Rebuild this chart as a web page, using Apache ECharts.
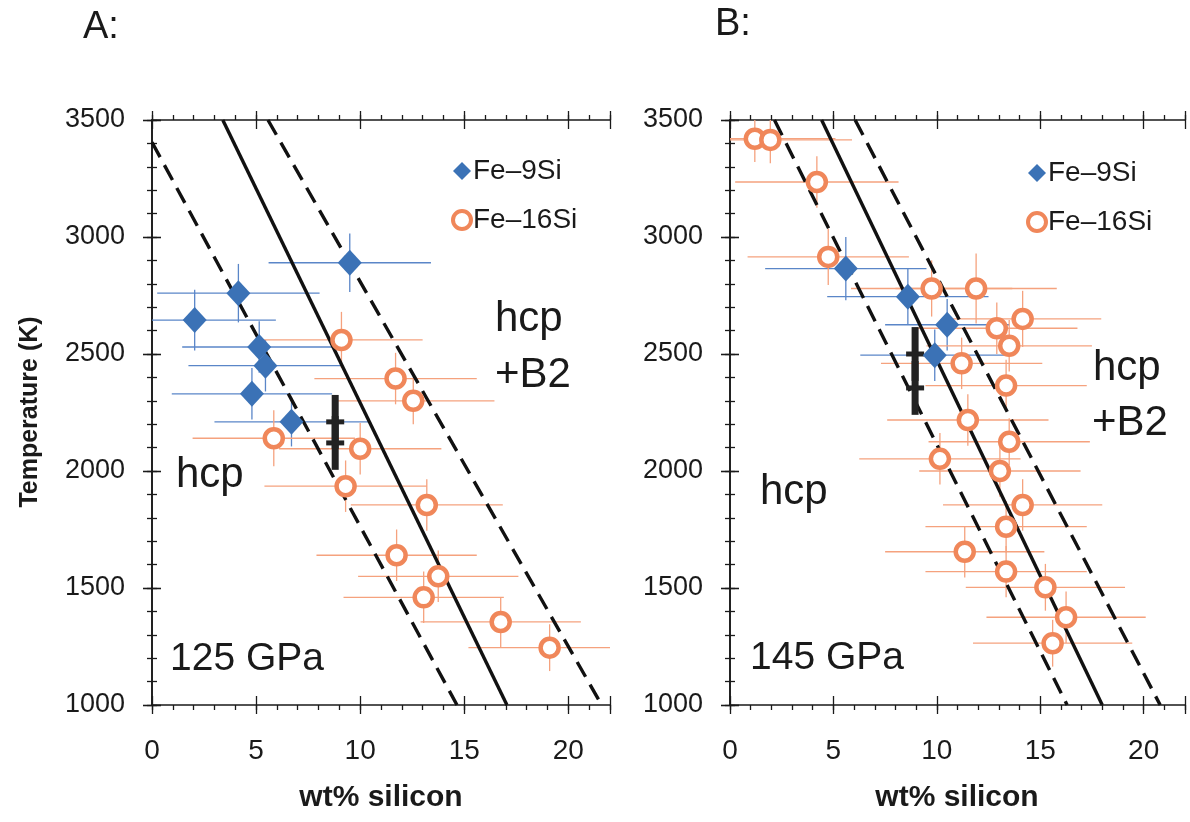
<!DOCTYPE html>
<html>
<head>
<meta charset="utf-8">
<title>Fe-Si phase boundary</title>
<script src="https://cdn.jsdelivr.net/npm/echarts@6/dist/echarts.min.js"></script>
<style>
  html, body { margin: 0; padding: 0; background: #fff; }
  #chart { width: 1190px; height: 822px; }
</style>
</head>
<body>
<div id="chart"></div>
<script>
// ---- data ----
const xTicks = [0, 5, 10, 15, 20];
const yTicks = [1000, 1500, 2000, 2500, 3000, 3500];

// A: 125 GPa, Fe-9Si (diamonds)
const a9Si    = [9.5, 4.15, 2.05, 5.15, 5.45, 4.8, 6.7];
const a9T     = [2890, 2760, 2645, 2530, 2450, 2330, 2210];
const a9SiErr = [3.9, 3.9, 3.9, 3.7, 3.7, 3.85, 3.7];
const a9TErr  = [125, 125, 130, 110, 110, 110, 105];

// A: 125 GPa, Fe-16Si (rings)
const a16Si    = [9.1, 11.7, 12.55, 5.85, 10.0, 9.3, 13.2, 11.75, 13.75, 13.05, 16.75, 19.1];
const a16T     = [2560, 2395, 2300, 2140, 2095, 1935, 1855, 1640, 1550, 1460, 1355, 1245];
const a16SiErr = [3.9, 3.9, 3.9, 3.9, 3.9, 3.9, 3.65, 3.85, 3.85, 3.85, 3.85, 3.9];
const a16TErr  = [120, 110, 100, 120, 110, 110, 110, 110, 110, 110, 107, 100];

// B: 145 GPa, Fe-9Si
const b9Si    = [5.6, 8.6, 10.5, 9.9];
const b9T     = [2865, 2745, 2625, 2495];
const b9SiErr = [3.9, 3.9, 3.0, 3.6];
const b9TErr  = [135, 120, 110, 110];

// B: 145 GPa, Fe-16Si
const b16Si    = [1.2, 1.95, 4.2, 4.75, 9.75, 11.9, 14.15, 12.9, 13.5, 11.2, 13.35, 11.5, 13.5, 10.15, 13.05, 14.15, 13.35, 11.35, 13.35, 15.25, 16.25, 15.6];
const b16T     = [3420, 3415, 3235, 2915, 2780, 2780, 2650, 2610, 2535, 2460, 2365, 2218, 2125, 2052, 2000, 1855, 1762, 1655, 1570, 1503, 1375, 1264];
const b16SiErr = [3.9, 3.95, 3.95, 3.9, 3.9, 3.9, 3.8, 3.9, 4.0, 3.9, 3.9, 3.9, 3.9, 3.9, 3.9, 3.85, 3.9, 3.85, 3.9, 3.85, 3.85, 3.85];
const b16TErr  = [100, 100, 110, 120, 120, 150, 120, 110, 110, 110, 110, 110, 100, 110, 110, 110, 110, 110, 110, 100, 110, 100];

// black reference points (earlier work)
const aRefSi = [8.8, 8.8];
const aRefT = [2210, 2120];
const aRefTErr = [115, 115];
const bRefSi = [8.95, 8.95];
const bRefT = [2500, 2355];
const bRefTErr = [115, 115];

// phase boundary (solid) and its bounds (dashed)
const aFit  = [[3.4, 3500], [17.05, 1000]];
const aLow  = [[0, 3405], [14.65, 1000]];
const aHigh = [[5.57, 3500], [21.6, 1000]];
const bFit  = [[4.43, 3500], [18.0, 1000]];
const bLow  = [[2.15, 3500], [16.3, 1000]];
const bHigh = [[6.05, 3500], [20.8, 1000]];

const X_MIN = 0, X_MAX = 22, Y_MIN = 1000, Y_MAX = 3500;

// ---- styles ----
const FONT = 'Liberation Sans, Arial, sans-serif';
const INK = '#1a1a1a';
const BLUE = '#3b72b6';
const BLUE_ERR = '#5a86c8';
const ORANGE = '#f0875a';
const ORANGE_ERR = '#f5a27e';

let xAxesFor = function (g) {
    let base = { gridIndex: g, type: 'value', min: X_MIN, max: X_MAX, splitLine: { show: false } };
    let tickLine = { color: INK, width: 1.3 };
    let list = [];
    ['bottom', 'top'].forEach(pos => {
        list.push(Object.assign({}, base, {
            position: pos, interval: 1,
            axisLine: { show: true, lineStyle: { color: INK, width: 1.6 } },
            axisTick: { show: true, length: 5, lineStyle: tickLine },
            axisLabel: {
                show: pos === 'bottom', margin: 32, fontSize: 28, color: INK, fontFamily: FONT,
                formatter: v => (xTicks.indexOf(v) >= 0 ? String(v) : '')
            }
        }));
        list.push(Object.assign({}, base, {
            position: pos, interval: 5,
            axisLine: { show: false }, axisLabel: { show: false },
            axisTick: { show: true, length: 9, lineStyle: tickLine }
        }));
        list.push(Object.assign({}, base, {
            position: pos, interval: 5,
            axisLine: { show: false }, axisLabel: { show: false },
            axisTick: { show: true, inside: true, length: 9, lineStyle: tickLine }
        }));
    });
    return list;
}

let yAxesFor = function (g) {
    let base = { gridIndex: g, type: 'value', min: Y_MIN, max: Y_MAX, splitLine: { show: false } };
    let tickLine = { color: INK, width: 1.3 };
    let list = [];
    ['left', 'right'].forEach(pos => {
        list.push(Object.assign({}, base, {
            position: pos, interval: 100,
            axisLine: { show: true, lineStyle: { color: INK, width: 1.6 } },
            axisTick: { show: true, length: 5, lineStyle: tickLine },
            axisLabel: {
                show: pos === 'left', margin: 27, fontSize: 27, color: INK, fontFamily: FONT,
                formatter: v => (yTicks.indexOf(v) >= 0 ? String(v) : '')
            }
        }));
        list.push(Object.assign({}, base, {
            position: pos, interval: 500,
            axisLine: { show: false }, axisLabel: { show: false },
            axisTick: { show: true, length: 9, lineStyle: tickLine }
        }));
        list.push(Object.assign({}, base, {
            position: pos, interval: 500,
            axisLine: { show: false }, axisLabel: { show: false },
            axisTick: { show: true, inside: true, length: 9, lineStyle: tickLine }
        }));
    });
    return list;
}

let clampX = v => Math.max(X_MIN, Math.min(X_MAX, v));
let clampY = v => Math.max(Y_MIN, Math.min(Y_MAX, v));

// thin cross-shaped error bars
let errorBars = function (xs, ts, xe, te, color, axis) {
    return {
        type: 'custom', silent: true, z: 2,
        xAxisIndex: axis, yAxisIndex: axis,
        data: xs.map((x, i) => [x, ts[i], xe[i], te[i]]),
        renderItem: function (params, api) {
            let x = api.value(0), t = api.value(1), dx = api.value(2), dt = api.value(3);
            let l = api.coord([clampX(x - dx), t]);
            let r = api.coord([clampX(x + dx), t]);
            let top = api.coord([x, clampY(t + dt)]);
            let bot = api.coord([x, clampY(t - dt)]);
            return {
                type: 'group',
                children: [
                    { type: 'line', shape: { x1: l[0], y1: l[1], x2: r[0], y2: r[1] }, style: { stroke: color, lineWidth: 1.3 } },
                    { type: 'line', shape: { x1: top[0], y1: top[1], x2: bot[0], y2: bot[1] }, style: { stroke: color, lineWidth: 1.3 } }
                ]
            };
        }
    };
}

// heavy black bars for the reference points
let refBars = function (xs, ts, te, axis) {
    return {
        type: 'custom', silent: true, z: 5,
        xAxisIndex: axis, yAxisIndex: axis,
        data: xs.map((x, i) => [x, ts[i], te[i]]),
        renderItem: function (params, api) {
            let x = api.value(0), t = api.value(1), dt = api.value(2);
            let c = api.coord([x, t]);
            let top = api.coord([x, t + dt]);
            let bot = api.coord([x, t - dt]);
            return {
                type: 'group',
                children: [
                    { type: 'line', shape: { x1: top[0], y1: top[1], x2: bot[0], y2: bot[1] }, style: { stroke: '#222', lineWidth: 7 } },
                    { type: 'line', shape: { x1: c[0] - 9, y1: c[1], x2: c[0] + 9, y2: c[1] }, style: { stroke: '#222', lineWidth: 5 } }
                ]
            };
        }
    };
}

let boundary = function (pts, dashed, axis) {
    return {
        type: 'line', data: pts, showSymbol: false, silent: true, z: 3,
        xAxisIndex: axis, yAxisIndex: axis,
        lineStyle: { color: '#111', width: 3.4, type: dashed ? [17, 9] : 'solid' }
    };
}

let diamonds = function (xs, ts, axis) {
    return {
        name: 'Fe–9Si', type: 'scatter', z: 6,
        xAxisIndex: axis, yAxisIndex: axis,
        symbol: 'diamond', symbolSize: [24, 26],
        itemStyle: { color: BLUE, opacity: 1 },
        data: xs.map((x, i) => [x, ts[i]])
    };
}

let rings = function (xs, ts, axis) {
    return {
        name: 'Fe–16Si', type: 'scatter', z: 6,
        xAxisIndex: axis, yAxisIndex: axis,
        symbol: 'circle', symbolSize: 18,
        itemStyle: { color: '#fff', borderColor: ORANGE, borderWidth: 4.5, opacity: 1 },
        data: xs.map((x, i) => [x, ts[i]])
    };
}

let label = function (text, x, y, size, bold) {
    return {
        type: 'text', x: x, y: y, silent: true,
        style: {
            text: text, fill: INK, fontSize: size, fontFamily: FONT,
            fontWeight: bold ? 'bold' : 'normal',
            verticalAlign: 'middle', align: 'left'
        }
    };
}

let legendFor = function (left, top) {
    return {
        orient: 'vertical', left: left, top: top,
        data: [
            { name: 'Fe–9Si', icon: 'diamond', itemStyle: { color: BLUE } },
            { name: 'Fe–16Si', icon: 'circle', itemStyle: { color: '#fff', borderColor: ORANGE, borderWidth: 4 } }
        ],
        itemWidth: 18, itemHeight: 18, itemGap: 19,
        selectedMode: false,
        textStyle: { fontSize: 28, color: INK, fontFamily: FONT, lineHeight: 30, padding: [0, 0, 0, -3] }
    };
}

let option = {
    backgroundColor: '#fff',
    animation: false,
    grid: [
        { left: 152, top: 120, width: 458, height: 585 },
        { left: 730, top: 120, width: 455, height: 585 }
    ],
    xAxis: xAxesFor(0).concat(xAxesFor(1)),
    yAxis: yAxesFor(0).concat(yAxesFor(1)),
    legend: [legendFor(446, 151), legendFor(1021, 153)],
    graphic: [
        label('A:', 83, 28, 38),
        label('B:', 715, 25, 38),
        label('hcp', 176, 475, 42),
        label('125 GPa', 170, 659, 39),
        label('hcp', 495, 319, 42),
        label('+B2', 495, 375, 42),
        label('hcp', 760, 492, 42),
        label('145 GPa', 750, 658, 39),
        label('hcp', 1093, 368, 42),
        label('+B2', 1092, 423, 42),
        {
            type: 'text', x: 30, y: 412, rotation: Math.PI / 2, silent: true,
            style: { text: 'Temperature (K)', fill: INK, fontSize: 25, fontWeight: 'bold', fontFamily: FONT, align: 'center', verticalAlign: 'middle' }
        },
        {
            type: 'text', x: 381, y: 798, silent: true,
            style: { text: 'wt% silicon', fill: INK, fontSize: 30, fontWeight: 'bold', fontFamily: FONT, align: 'center', verticalAlign: 'middle' }
        },
        {
            type: 'text', x: 957, y: 798, silent: true,
            style: { text: 'wt% silicon', fill: INK, fontSize: 30, fontWeight: 'bold', fontFamily: FONT, align: 'center', verticalAlign: 'middle' }
        }
    ],
    series: [
        // panel A
        errorBars(a9Si, a9T, a9SiErr, a9TErr, BLUE_ERR, 0),
        errorBars(a16Si, a16T, a16SiErr, a16TErr, ORANGE_ERR, 0),
        boundary(aLow, true, 0),
        boundary(aFit, false, 0),
        boundary(aHigh, true, 0),
        refBars(aRefSi, aRefT, aRefTErr, 0),
        diamonds(a9Si, a9T, 0),
        rings(a16Si, a16T, 0),
        // panel B
        errorBars(b9Si, b9T, b9SiErr, b9TErr, BLUE_ERR, 6),
        errorBars(b16Si, b16T, b16SiErr, b16TErr, ORANGE_ERR, 6),
        boundary(bLow, true, 6),
        boundary(bFit, false, 6),
        boundary(bHigh, true, 6),
        refBars(bRefSi, bRefT, bRefTErr, 6),
        diamonds(b9Si, b9T, 6),
        rings(b16Si, b16T, 6)
    ]
};

let chart = echarts.init(document.getElementById('chart'), null, { renderer: 'canvas' });
chart.setOption(option);
</script>
</body>
</html>
